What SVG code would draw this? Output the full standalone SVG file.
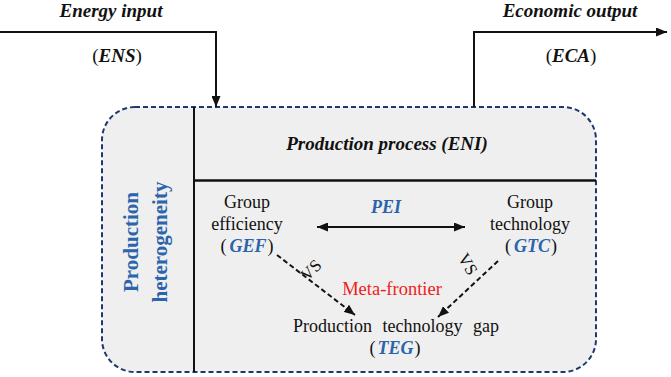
<svg xmlns="http://www.w3.org/2000/svg" width="671" height="377" viewBox="0 0 671 377">
  <style>
    text { font-family: 'Liberation Serif', Tinos, 'Times New Roman', 'DejaVu Serif', serif; }
    .bi { font-weight: bold; font-style: italic; }
    .blue { fill: #2b64ab; }
    .txt { font-size: 18px; fill: #111; }
    .line { stroke: #111; stroke-width: 2; fill: none; }
    .dash { stroke: #111; stroke-width: 2; fill: none; stroke-dasharray: 5 3; }
  </style>
  <defs>
    <marker id="ah" markerUnits="userSpaceOnUse" markerWidth="11" markerHeight="9" refX="11" refY="4.5" orient="auto-start-reverse">
      <path d="M0,0 L11,4.5 L0,9 z" fill="#111"/>
    </marker>
  </defs>
  <rect width="671" height="377" fill="#ffffff"/>

  <g id="frame">
    <rect x="102" y="107" width="494" height="265" rx="33" ry="33" fill="#efefef" stroke="#1f3870" stroke-width="2" stroke-dasharray="5 3"/>
    <line x1="194" y1="107" x2="194" y2="372" class="line"/>
    <line x1="194" y1="180.5" x2="596" y2="180.5" stroke="#111" stroke-width="2.5"/>
  </g>

  <g id="energy-input">
    <text x="111" y="17" text-anchor="middle" class="bi" font-size="19" fill="#111">Energy input</text>
    <text x="117" y="62" text-anchor="middle" font-size="19" fill="#111">(<tspan class="bi">ENS</tspan>)</text>
  </g>

  <g id="economic-output">
    <text x="570" y="17" text-anchor="middle" class="bi" font-size="19" fill="#111">Economic output</text>
    <text x="571" y="62" text-anchor="middle" font-size="19" fill="#111">(<tspan class="bi">ECA</tspan>)</text>
  </g>

  <g id="production-process">
    <text x="387" y="150" text-anchor="middle" class="bi" font-size="19" fill="#111">Production process (ENI)</text>
  </g>

  <g id="production-heterogeneity">
    <text transform="translate(138,242) rotate(-90)" text-anchor="middle" class="blue" font-size="21" font-weight="bold">Production</text>
    <text transform="translate(167,242) rotate(-90)" text-anchor="middle" class="blue" font-size="21" font-weight="bold">heterogeneity</text>
  </g>

  <g id="group-efficiency">
    <text x="247" y="208" text-anchor="middle" class="txt">Group</text>
    <text x="247" y="230" text-anchor="middle" class="txt">efficiency</text>
    <text x="247" y="252" text-anchor="middle" class="txt">(<tspan dx="3" class="bi blue">GEF</tspan><tspan dx="1">)</tspan></text>
  </g>

  <g id="group-technology">
    <text x="530" y="208" text-anchor="middle" class="txt">Group</text>
    <text x="530" y="230" text-anchor="middle" class="txt">technology</text>
    <text x="531" y="252" text-anchor="middle" class="txt">(<tspan dx="3" class="bi blue">GTC</tspan><tspan dx="1">)</tspan></text>
  </g>

  <g id="production-technology-gap">
    <text x="396" y="332" text-anchor="middle" class="txt" word-spacing="6">Production technology gap</text>
    <text x="395" y="354" text-anchor="middle" class="txt">(<tspan dx="2" class="bi blue">TEG</tspan><tspan dx="1">)</tspan></text>
  </g>

  <g id="connectors">
    <polyline points="0,32 216,32 216,107" class="line" marker-end="url(#ah)"/>
    <polyline points="474,107 474,32 667,32" class="line" marker-end="url(#ah)"/>
    <line x1="317" y1="227" x2="465" y2="227" class="line" marker-start="url(#ah)" marker-end="url(#ah)"/>
    <line x1="277" y1="255" x2="355" y2="315" class="dash" marker-end="url(#ah)"/>
    <line x1="498" y1="261" x2="438" y2="317" class="dash" marker-end="url(#ah)"/>
    <text x="386" y="213" text-anchor="middle" class="bi blue" font-size="18">PEI</text>
    <text transform="translate(315,274) rotate(-45)" text-anchor="middle" font-size="17" fill="#111">VS</text>
    <text transform="translate(463,267) rotate(60)" text-anchor="middle" font-size="17" fill="#111">VS</text>
    <text x="392" y="295" text-anchor="middle" font-size="18.5" fill="#ee1c1c">Meta-frontier</text>
  </g>
</svg>
